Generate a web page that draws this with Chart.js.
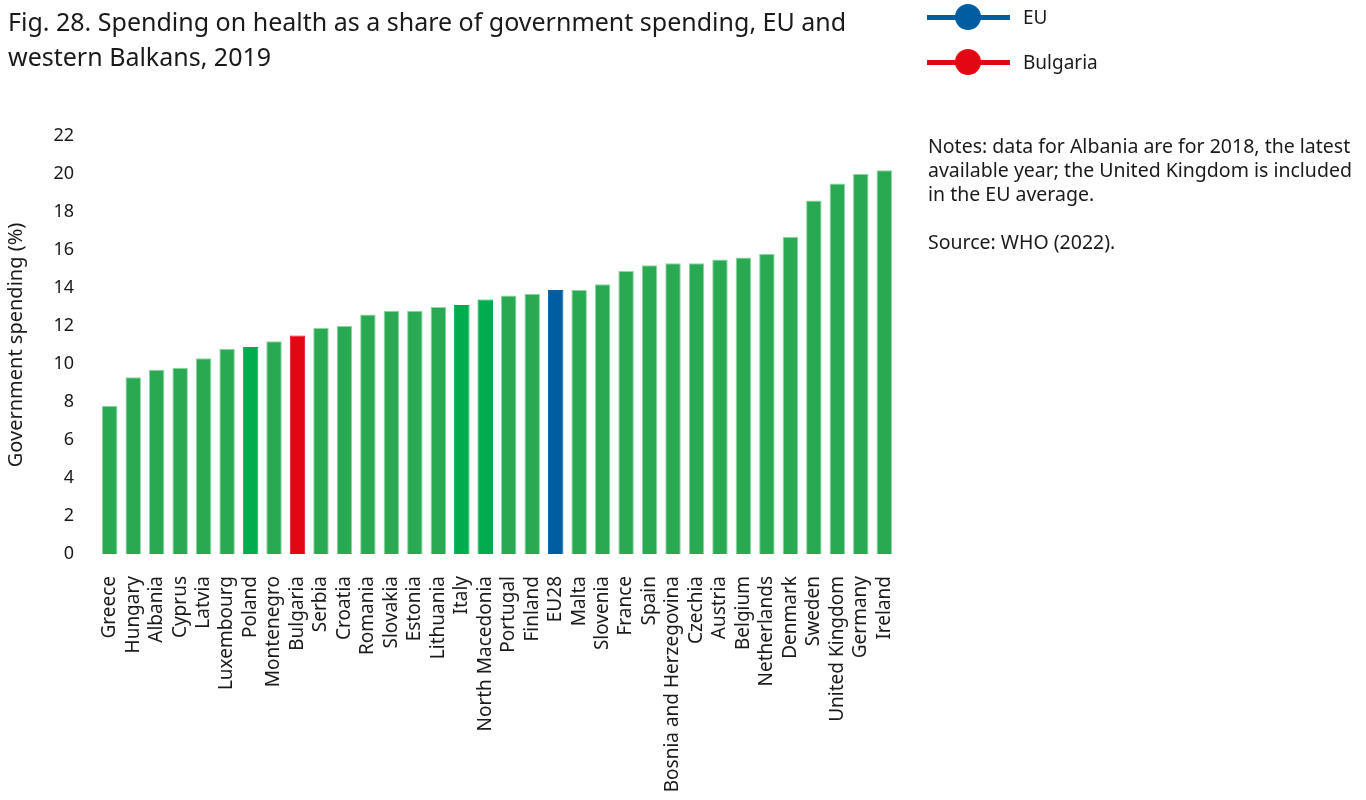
<!DOCTYPE html>
<html>
<head>
<meta charset="utf-8">
<script src="https://cdn.jsdelivr.net/npm/chart.js@4.4.1/dist/chart.umd.min.js"></script>
<style>
  html, body { margin: 0; padding: 0; background: #fff; }
  body { width: 1366px; height: 800px; position: relative; overflow: hidden; font-family: "Noto Sans", sans-serif; color: #1a1a1a; }
  #wrap { position: absolute; left: 0; top: 0; width: 1366px; height: 800px; }
  .title { position: absolute; left: 8px; top: 4px; font-size: 25px; line-height: 35px; white-space: nowrap; }
  .legend { position: absolute; left: 927px; font-size: 19px; }
  .legend .line { position: absolute; left: 0; width: 83px; height: 5px; }
  .legend .dot { position: absolute; left: 28px; width: 26px; height: 26px; border-radius: 50%; }
  .legend .lbl { position: absolute; left: 96px; white-space: nowrap; }
  .notes { position: absolute; left: 928px; top: 134px; font-size: 19.5px; line-height: 24px; width: 436px; }
</style>
</head>
<body>
<div id="wrap"><canvas id="chart" width="1366" height="800"></canvas></div>
<div class="title">Fig. 28. Spending on health as a share of government spending, EU and<br>western Balkans, 2019</div>
<div id="legend"></div>
<div class="notes">Notes: data for Albania are for 2018, the latest<br>available year; the United Kingdom is included<br>in the EU average.<br><br>Source: WHO (2022).</div>
<script>
const countries = [
  "Greece", "Hungary", "Albania", "Cyprus", "Latvia", "Luxembourg", "Poland",
  "Montenegro", "Bulgaria", "Serbia", "Croatia", "Romania", "Slovakia", "Estonia",
  "Lithuania", "Italy", "North Macedonia", "Portugal", "Finland", "EU28", "Malta",
  "Slovenia", "France", "Spain", "Bosnia and Herzegovina", "Czechia", "Austria",
  "Belgium", "Netherlands", "Denmark", "Sweden", "United Kingdom", "Germany", "Ireland"
];
const spending = [
  7.8, 9.3, 9.7, 9.8, 10.3, 10.8, 10.9,
  11.2, 11.5, 11.9, 12.0, 12.6, 12.8, 12.8,
  13.0, 13.1, 13.4, 13.6, 13.7, 13.9, 13.9,
  14.2, 14.9, 15.2, 15.3, 15.3, 15.5, 15.6,
  15.8, 16.7, 18.6, 19.5, 20.0, 20.2
];
const yTicks = [0, 2, 4, 6, 8, 10, 12, 14, 16, 18, 20, 22];
const highlightEU = "EU28";
const highlightBG = "Bulgaria";
const brightGreen = ["Poland", "Italy", "North Macedonia"];

const legendItems = [
  { text: "EU", color: "#005da2", top: 4 },
  { text: "Bulgaria", color: "#e30613", top: 49 },
];

const legendEl = document.getElementById("legend");
legendItems.forEach((item) => {
  const box = Object.assign(document.createElement("div"), { className: "legend" });
  box.style.top = item.top + "px";
  box.innerHTML =
    `<div class="line" style="top:11px;background:${item.color}"></div>` +
    `<div class="dot" style="top:0;background:${item.color}"></div>` +
    `<div class="lbl" style="top:0;line-height:26px">${item.text}</div>`;
  legendEl.appendChild(box);
});

const barColor = (name) => {
  if (name === highlightEU) return "#005da2";
  if (name === highlightBG) return "#e30613";
  if (brightGreen.includes(name)) return "#00ac4e";
  return "#28a952";
};
const edgeColor = (name) => {
  if (name === highlightEU || name === highlightBG || brightGreen.includes(name)) return barColor(name);
  return "#8fd5a2";
};

new Chart(document.getElementById("chart").getContext("2d"), {
  type: "bar",
  data: {
    labels: countries,
    datasets: [
      {
        data: spending,
        backgroundColor: countries.map(barColor),
        borderColor: countries.map(edgeColor),
        borderWidth: 1,
        barPercentage: 0.66,
        categoryPercentage: 1,
      },
    ],
  },
  options: {
    responsive: false,
    animation: false,
    layout: { padding: { left: 4, top: 136, right: 470, bottom: 0 } },
    plugins: {
      legend: { display: false },
      tooltip: { enabled: false },
    },
    scales: {
      x: {
        grid: { display: false },
        border: { display: false },
        ticks: {
          autoSkip: false,
          minRotation: 90,
          maxRotation: 90,
          padding: 14,
          color: "#1a1a1a",
          font: { family: "Noto Sans", size: 19 },
        },
        afterFit: (scale) => {
          scale.height = 246;
        },
      },
      y: {
        min: 0,
        max: 22,
        grid: { display: false },
        border: { display: false },
        afterBuildTicks: (scale) => {
          scale.ticks = yTicks.map((v) => ({ value: v }));
        },
        ticks: {
          padding: 16,
          color: "#1a1a1a",
          font: { family: "Noto Sans", size: 18 },
        },
        title: {
          display: true,
          text: "Government spending (%)",
          color: "#1a1a1a",
          font: { family: "Noto Sans", size: 20 },
          padding: 0,
        },
        afterFit: (scale) => {
          scale.width = 94;
        },
      },
    },
  },
});
</script>
</body>
</html>
